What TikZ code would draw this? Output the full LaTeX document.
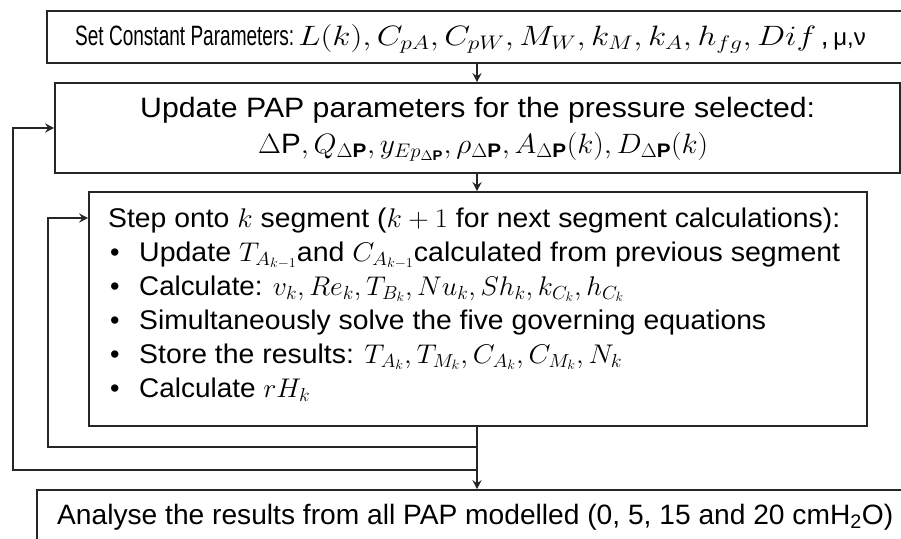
\RequirePackage{fix-cm}
\documentclass[tikz,border=0pt]{standalone}
\usepackage{graphicx}
\usepackage{fontspec}
\setmainfont{Liberation Sans}
\newfontfamily\narrowfont[FakeStretch=0.68]{Liberation Sans}
\usetikzlibrary{arrows.meta}
\newcommand{\fitw}[2]{\resizebox{#1}{\height}{#2}}
\newcommand{\bul}{\makebox[31pt][l]{\hspace{2pt}\textbullet}}
\begin{document}
\begin{tikzpicture}[x=1pt,y=-1pt,
  box/.style={draw=black!85, line width=1.6pt, inner sep=0pt},
  lbl/.style={inner sep=0pt, anchor=base west},
  fa/.style={font=\fontsize{28}{30}\selectfont},
  fb/.style={font=\fontsize{28}{34}\selectfont},
  fc/.style={font=\fontsize{27}{34}\selectfont},
  conn/.style={draw=black!85, line width=1.6pt},
  arr/.style={conn, -{Stealth[length=9pt,width=9pt,inset=3pt]}}]
\useasboundingbox (0,0) rectangle (901,538);
% boxes
\node[box, minimum width=860pt, minimum height=52pt] (b1) at (477,37) {};
\node[box, minimum width=845pt, minimum height=90pt] (b2) at (477.5,128) {};
\node[box, minimum width=778pt, minimum height=234pt] (b3) at (478,309) {};
\node[box, minimum width=880pt, minimum height=58pt] (b4) at (477,519) {};
% texts
\node[lbl,fa] (t1) at (75,45) {{\narrowfont Set Constant Parameters:}\hspace{4pt}\fitw{518pt}{$L(k),C_{pA},C_{pW},M_W,k_M,k_A,h_{fg},Dif$}\,,\,{\fontsize{24}{30}\selectfont μ,ν}};
\node[lbl,fb] (t2a) at (140,117) {\fitw{675pt}{Update PAP parameters for the pressure selected:}};
\node[lbl,fb] (t2b) at (258,153) {\fitw{450pt}{$\Delta\mathrm{P},Q_{\Delta\mathbf{P}},y_{Ep_{\Delta\mathbf{P}}},\rho_{\Delta\mathbf{P}},A_{\Delta\mathbf{P}}(k),D_{\Delta\mathbf{P}}(k)$}};
\node[lbl,fc] (t3a) at (108,227) {\fitw{732pt}{Step onto $k$ segment ($k+1$ for next segment calculations):}};
\node[lbl,fc] (t3b) at (108,261) {\bul\fitw{701pt}{Update $T_{A_{k-1}}$and $C_{A_{k-1}}$calculated from previous segment}};
\node[lbl,fc] (t3c) at (108,295) {\bul\fitw{485pt}{Calculate: $v_k,Re_k,T_{B_k},Nu_k,Sh_k,k_{C_k},h_{C_k}$}};
\node[lbl,fc] (t3d) at (108,329) {\bul\fitw{627pt}{Simultaneously solve the five governing equations}};
\node[lbl,fc] (t3e) at (108,363) {\bul\fitw{483pt}{Store the results: $T_{A_k},T_{M_k},C_{A_k},C_{M_k},N_k$}};
\node[lbl,fc] (t3f) at (108,397) {\bul\fitw{171pt}{Calculate $rH_k$}};
\node[lbl,fb] (t4) at (57,524) {\fitw{836pt}{Analyse the results from all PAP modelled (0, 5, 15 and 20 cmH\textsubscript{2}O)}};
% loop coordinates
\coordinate (j1) at (477,447);
\coordinate (j2) at (477,470);
\coordinate (c1) at (48,447);
\coordinate (c2) at (13,470);
\coordinate (y3) at (0,218);
\coordinate (y2) at (0,128);
% connectors
\draw[arr] (b1.south -| j1) -- (b2.north -| j1);
\draw[arr] (b2.south -| j1) -- (b3.north -| j1);
\draw[arr] (b3.south -| j1) -- (b4.north -| j1);
\draw[arr] (j1) -- (c1) |- (b3.west |- y3);
\draw[arr] (j2) -- (c2) |- (b2.west |- y2);
\end{tikzpicture}
\end{document}
